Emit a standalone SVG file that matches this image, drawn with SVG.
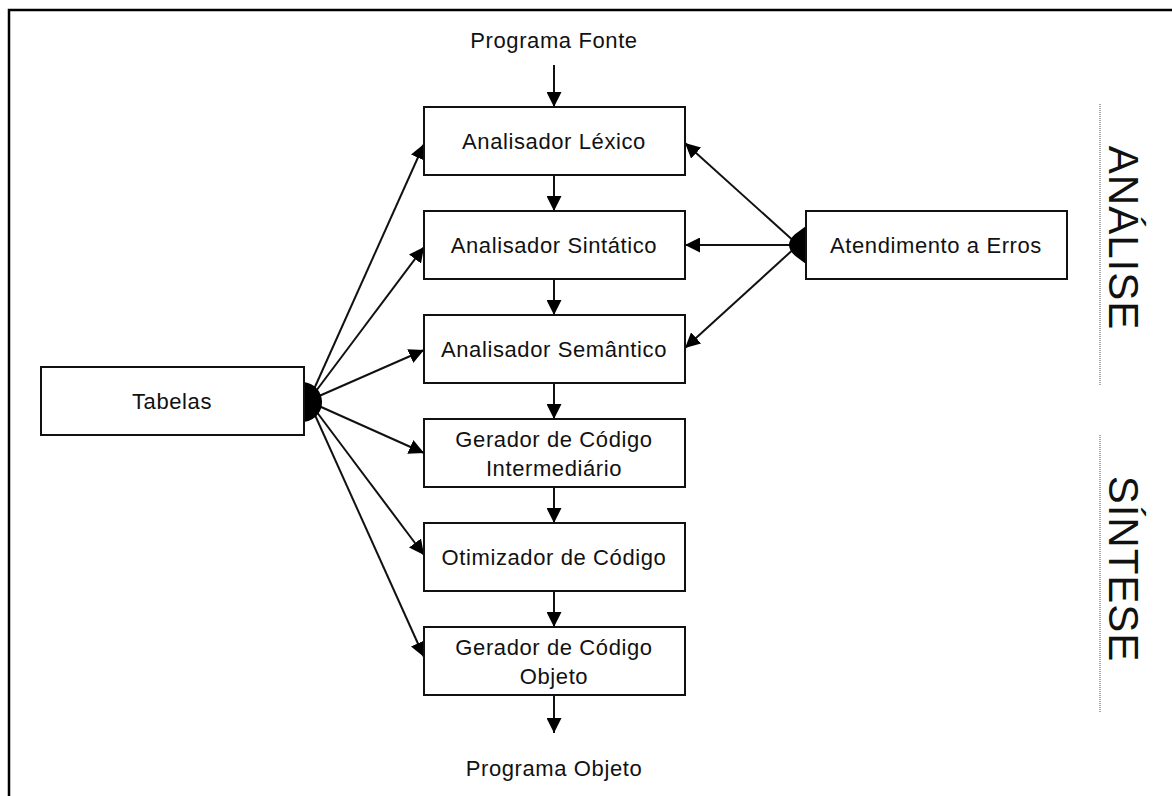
<svg xmlns="http://www.w3.org/2000/svg" width="1172" height="796" viewBox="0 0 1172 796">
  <style>
    .box { fill: #ffffff; stroke: #111111; stroke-width: 2; }
    .lbl { font-family: "Liberation Sans", Arial, sans-serif; font-size: 22px; letter-spacing: 0.6px; fill: #111111; text-anchor: middle; }
    .side { font-family: "Liberation Sans", Arial, sans-serif; font-size: 42px; letter-spacing: 1px; fill: #111111; text-anchor: middle; }
    .wire { stroke: #111111; stroke-width: 2; fill: none; marker-end: url(#head); }
    .hub { fill: #000000; }
    .sep { stroke: #8a8a8a; stroke-width: 1.5; stroke-dasharray: 1 1; }
  </style>
  <defs>
    <marker id="head" viewBox="0 0 15 15" refX="15" refY="7.5" markerWidth="15" markerHeight="15" markerUnits="userSpaceOnUse" orient="auto">
      <path d="M0,0 L15,7.5 L0,15 z" fill="#000000"/>
    </marker>
  </defs>

  <rect x="0" y="0" width="1172" height="796" fill="#ffffff"/>
  <!-- page frame (left and top edges) -->
  <path d="M9,796 V10 H1172" fill="none" stroke="#000000" stroke-width="2.5"/>

  <!-- terminal labels -->
  <text class="lbl" x="554" y="48">Programa Fonte</text>
  <text class="lbl" x="554" y="776">Programa Objeto</text>

  <!-- connectors -->
  <g id="connectors">
    <line class="wire" x1="554" y1="65" x2="554" y2="107"/>
    <line class="wire" x1="554" y1="175" x2="554" y2="211"/>
    <line class="wire" x1="554" y1="279" x2="554" y2="315"/>
    <line class="wire" x1="554" y1="383" x2="554" y2="419"/>
    <line class="wire" x1="554" y1="487" x2="554" y2="523"/>
    <line class="wire" x1="554" y1="591" x2="554" y2="627"/>
    <line class="wire" x1="554" y1="695" x2="554" y2="733"/>

    <!-- Tabelas fan-out -->
    <line class="wire" x1="310" y1="398" x2="424" y2="144"/>
    <line class="wire" x1="310" y1="399" x2="424" y2="247"/>
    <line class="wire" x1="310" y1="400" x2="424" y2="350"/>
    <line class="wire" x1="310" y1="402" x2="424" y2="453"/>
    <line class="wire" x1="310" y1="403" x2="424" y2="555"/>
    <line class="wire" x1="310" y1="404" x2="424" y2="657"/>
    <path class="hub" d="M304,382 C327,385 329,418 304,422 Z"/>

    <!-- Atendimento a Erros fan-out -->
    <line class="wire" x1="797" y1="244" x2="685" y2="143"/>
    <line class="wire" x1="797" y1="245" x2="685" y2="245"/>
    <line class="wire" x1="797" y1="246" x2="685" y2="348"/>
    <path class="hub" d="M806,226 L798,232 C786,240 786,250 798,258 L806,264 Z"/>
  </g>

  <!-- pipeline stages -->
  <g id="lexico">
    <rect class="box" x="424" y="107" width="261" height="68"/>
    <text class="lbl" x="554" y="149">Analisador Léxico</text>
  </g>
  <g id="sintatico">
    <rect class="box" x="424" y="211" width="261" height="68"/>
    <text class="lbl" x="554" y="253">Analisador Sintático</text>
  </g>
  <g id="semantico">
    <rect class="box" x="424" y="315" width="261" height="68"/>
    <text class="lbl" x="554" y="357">Analisador Semântico</text>
  </g>
  <g id="intermediario">
    <rect class="box" x="424" y="419" width="261" height="68"/>
    <text class="lbl" x="554" y="447">Gerador de Código</text>
    <text class="lbl" x="554" y="476">Intermediário</text>
  </g>
  <g id="otimizador">
    <rect class="box" x="424" y="523" width="261" height="68"/>
    <text class="lbl" x="554" y="565">Otimizador de Código</text>
  </g>
  <g id="objeto">
    <rect class="box" x="424" y="627" width="261" height="68"/>
    <text class="lbl" x="554" y="655">Gerador de Código</text>
    <text class="lbl" x="554" y="684">Objeto</text>
  </g>

  <g id="tabelas">
    <rect class="box" x="41" y="367" width="263" height="68"/>
    <text class="lbl" x="172" y="409">Tabelas</text>
  </g>
  <g id="erros">
    <rect class="box" x="806" y="211" width="261" height="68"/>
    <text class="lbl" x="936" y="253">Atendimento a Erros</text>
  </g>

  <!-- phase bands -->
  <g id="analise">
    <line class="sep" x1="1100" y1="104" x2="1100" y2="385"/>
    <text class="side" transform="translate(1109,238) rotate(90)">ANÁLISE</text>
  </g>
  <g id="sintese">
    <line class="sep" x1="1100" y1="435" x2="1100" y2="712"/>
    <text class="side" transform="translate(1109,569) rotate(90)">SÍNTESE</text>
  </g>
</svg>
